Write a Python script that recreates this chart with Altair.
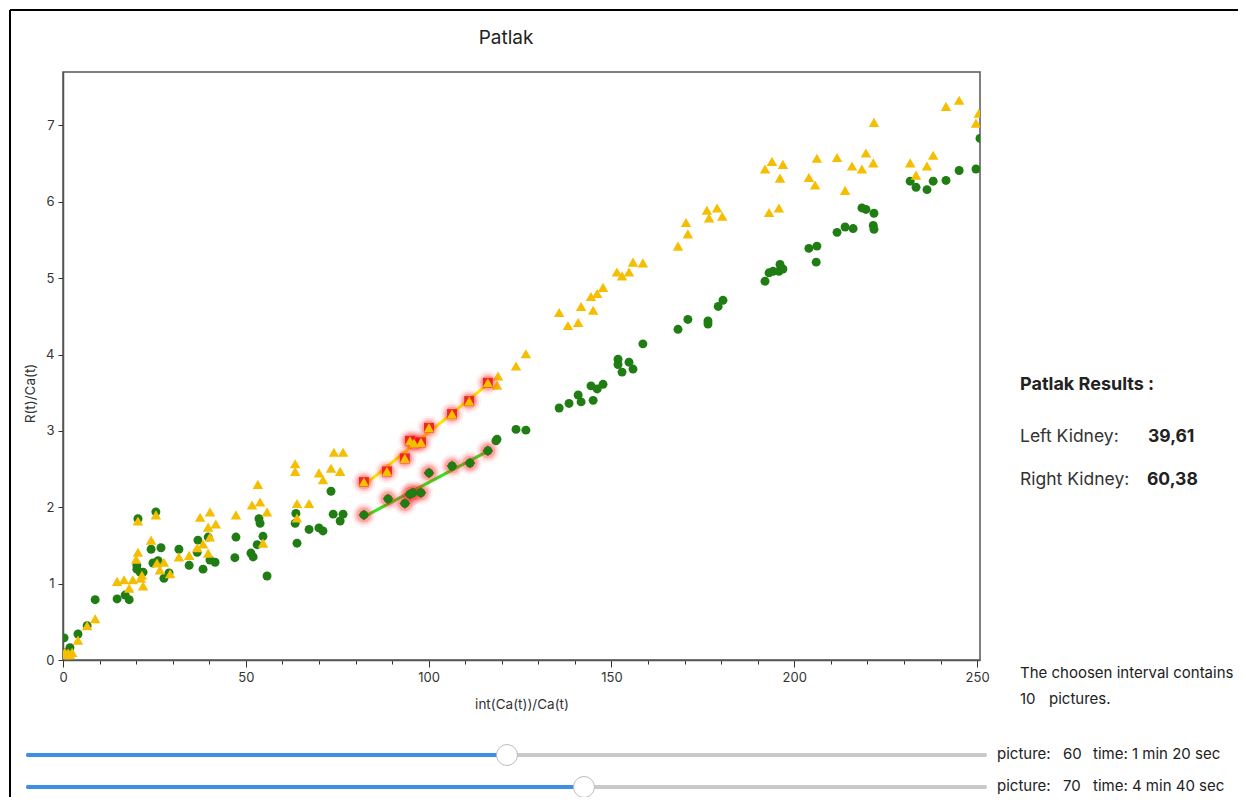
import altair as alt
import pandas as pd

# ---------------- data ----------------
# Right kidney (yellow triangles), points outside the chosen interval
right_x = [0.3, 0.5, 1.4, 1.9, 2.5, 4.1, 6.6, 8.8, 14.8, 16.7, 18.1, 19.1, 20.5, 20.0, 20.5,
           24.1, 21.6, 21.9, 21.3, 25.7, 27.6, 26.5, 29.3, 25.4, 31.7, 34.5, 36.7, 38.3, 39.7,
           40.2, 39.7, 41.8, 37.5, 40.2, 47.3, 53.3, 51.7, 53.9, 55.8, 54.7, 63.5, 63.5, 64.0,
           67.3, 64.0, 70.0, 71.1, 73.3, 75.8, 74.1, 76.6,
           118.7, 119.0, 123.9, 126.6, 135.7, 138.1, 140.9, 141.7, 145.0, 144.4, 146.1, 147.7,
           151.5, 152.9, 154.8, 155.9, 158.6, 168.2, 170.9, 170.4, 176.1, 178.9, 180.3, 176.7,
           192.0, 193.9, 196.9, 196.1, 193.1, 195.8, 206.2, 204.0, 205.7, 211.7, 213.9, 215.8,
           218.5, 219.6, 221.6, 221.8, 231.7, 233.3, 236.3, 238.0, 241.5, 245.1, 250.5, 249.7]
right_y = [0.07, 0.10, 0.09, 0.07, 0.10, 0.26, 0.45, 0.54, 1.03, 1.05, 0.94, 1.05, 1.41, 1.32, 1.82,
           1.57, 1.11, 0.97, 1.07, 1.27, 1.28, 1.18, 1.13, 1.90, 1.35, 1.37, 1.47, 1.52, 1.40,
           1.61, 1.74, 1.78, 1.87, 1.94, 1.90, 2.30, 2.03, 2.07, 1.94, 1.53, 2.57, 2.47, 2.05,
           2.05, 1.86, 2.45, 2.36, 2.51, 2.47, 2.72, 2.72,
           3.60, 3.72, 3.85, 4.01, 4.55, 4.38, 4.42, 4.63, 4.58, 4.76, 4.80, 4.88,
           5.08, 5.03, 5.08, 5.21, 5.20, 5.42, 5.58, 5.73, 5.89, 5.92, 5.81, 5.79,
           6.43, 6.53, 6.49, 6.31, 5.86, 5.92, 6.57, 6.32, 6.22, 6.58, 6.15, 6.47,
           6.43, 6.64, 6.51, 7.04, 6.51, 6.35, 6.47, 6.61, 7.25, 7.33, 7.16, 7.03]

# Right kidney, points inside the chosen interval (pictures 60-70)
right_sel_x = [82.3, 88.6, 93.5, 94.9, 96.0, 97.9, 100.1, 106.4, 111.1, 116.2]
right_sel_y = [2.33, 2.47, 2.64, 2.87, 2.84, 2.85, 3.04, 3.22, 3.39, 3.63]

# Left kidney (green circles), points outside the chosen interval
left_x = [0.3, 1.9, 0.8, 4.1, 6.6, 8.8, 14.8, 17.0, 18.1, 20.5, 25.4, 24.1, 26.8, 20.2, 21.1,
          21.9, 20.2, 24.6, 26.0, 27.6, 29.0, 31.7, 34.5, 38.3, 36.9, 39.7, 36.7, 40.2, 41.6,
          47.3, 47.0, 51.4, 52.0, 53.6, 53.9, 54.7, 53.1, 55.8, 63.7, 63.5, 64.0, 67.3, 70.0,
          71.1, 73.3, 73.9, 76.6, 75.8,
          118.4, 118.7, 123.9, 126.6, 135.7, 138.4, 140.9, 141.7, 145.0, 144.4, 146.1, 147.7,
          151.8, 151.8, 152.9, 154.8, 155.9, 158.6, 168.2, 170.9, 176.4, 176.4, 179.2, 180.5,
          192.0, 193.1, 194.2, 196.1, 195.8, 196.9, 204.0, 206.2, 206.0, 211.7, 213.9, 216.1,
          218.5, 219.6, 221.8, 221.6, 221.8, 231.7, 233.3, 236.3, 238.0, 241.5, 245.1, 249.7, 250.8]
left_y = [0.29, 0.16, 0.10, 0.34, 0.45, 0.79, 0.80, 0.85, 0.79, 1.85, 1.94, 1.45, 1.47, 1.19, 1.15,
          1.15, 1.24, 1.27, 1.30, 1.07, 1.14, 1.45, 1.24, 1.19, 1.57, 1.61, 1.41, 1.31, 1.28,
          1.61, 1.34, 1.40, 1.35, 1.85, 1.79, 1.62, 1.51, 1.10, 1.92, 1.79, 1.53, 1.71, 1.73,
          1.69, 2.21, 1.91, 1.91, 1.82,
          2.87, 2.89, 3.02, 3.01, 3.30, 3.36, 3.47, 3.38, 3.40, 3.59, 3.55, 3.61,
          3.94, 3.87, 3.77, 3.90, 3.81, 4.14, 4.33, 4.46, 4.44, 4.40, 4.63, 4.71,
          4.96, 5.07, 5.09, 5.18, 5.09, 5.12, 5.39, 5.42, 5.21, 5.60, 5.67, 5.65,
          5.92, 5.90, 5.85, 5.69, 5.64, 6.27, 6.19, 6.16, 6.27, 6.28, 6.41, 6.43, 6.83]

# Left kidney, points inside the chosen interval
left_sel_x = [82.3, 88.9, 93.5, 94.9, 95.7, 97.9, 100.1, 106.4, 111.3, 116.2]
left_sel_y = [1.90, 2.11, 2.05, 2.17, 2.19, 2.19, 2.45, 2.54, 2.58, 2.74]

x_tick_values = list(range(0, 251, 10))
y_tick_values = list(range(0, 8))
x_domain = [0, 250.8]
y_domain = [0, 7.7]

title_text = "Patlak"
x_title = "int(Ca(t))/Ca(t)"
y_title = "R(t)/Ca(t)"
results_title = "Patlak Results :"
result_labels = ["Left Kidney:", "Right Kidney:"]
result_values = ["39,61", "60,38"]
interval_text = ["The choosen interval contains", "10", "pictures."]
slider_pictures = ["60", "70"]
slider_times = ["time: 1 min 20 sec", "time: 4 min 40 sec"]

# ---------------- tables ----------------
right_df = pd.DataFrame({"x": right_x, "y": right_y})
right_sel_df = pd.DataFrame({"x": right_sel_x, "y": right_sel_y})
left_df = pd.DataFrame({"x": left_x, "y": left_y})
left_sel_df = pd.DataFrame({"x": left_sel_x, "y": left_sel_y})
one = pd.DataFrame({"a": [0]})

FONT = "Inter"
GREEN = "#1f7d14"
GOLD = "#f5be00"

X = alt.X("x:Q", scale=alt.Scale(domain=x_domain, nice=False, zero=False),
          axis=alt.Axis(values=x_tick_values, title=x_title,
                        labelExpr="datum.value % 50 === 0 ? datum.label : ''",
                        tickSize={"condition": {"test": "datum.value % 50 === 0", "value": 7}, "value": 4},
                        labelPadding=4, titlePadding=13, labelFlush=False))
Y = alt.Y("y:Q", scale=alt.Scale(domain=y_domain, nice=False),
          axis=alt.Axis(values=y_tick_values, title=y_title, tickSize=5,
                        labelPadding=4, labelFlush=False,
                        titleX=-33, titleY=321, titleAlign="center", titleBaseline="middle",
                        titleAngle=270))

green_pts = alt.Chart(left_df).mark_circle(size=80, color=GREEN, opacity=1, clip=True).encode(x=X, y=Y)
gold_pts = alt.Chart(right_df).mark_point(shape="triangle-up", filled=True, size=110, color=GOLD,
                                          opacity=1, clip=True).encode(x=X, y=Y)

gold_line = alt.Chart(right_sel_df).transform_regression("x", "y").mark_line(
    color="#ffe600", strokeWidth=3).encode(x=X, y=Y)
green_line = alt.Chart(left_sel_df).transform_regression("x", "y").mark_line(
    color="#2ee51e", strokeWidth=3).encode(x=X, y=Y)

def halo(df, shape_under, under_size):
    h0 = alt.Chart(df).mark_circle(size=560, color="#ff3030", opacity=0.08).encode(x=X, y=Y)
    h1 = alt.Chart(df).mark_circle(size=380, color="#ff3030", opacity=0.14).encode(x=X, y=Y)
    h2 = alt.Chart(df).mark_circle(size=230, color="#ff2020", opacity=0.25).encode(x=X, y=Y)
    h3 = alt.Chart(df).mark_point(shape=shape_under, filled=True, size=under_size, color="#ee1010",
                                  opacity=0.85).encode(x=X, y=Y)
    return [h0, h1, h2, h3]

gold_sel = alt.Chart(right_sel_df).mark_point(shape="triangle-up", filled=True, size=110,
                                              color=GOLD, opacity=1).encode(x=X, y=Y)
green_sel = alt.Chart(left_sel_df).mark_circle(size=80, color=GREEN, opacity=1).encode(x=X, y=Y)

# ---------------- surrounding text and controls ----------------
def txt(s, x, y, size=13, weight="normal", align="left", color="#222"):
    return alt.Chart(one).mark_text(text=s, font=FONT, fontSize=size, fontWeight=weight,
                                    align=align, baseline="middle", color=color).encode(
        x=alt.value(x), y=alt.value(y))

texts = [
    txt(title_text, 443, -34, size=19, align="center", color="#222"),
    txt(results_title, 957, 313, size=18, weight="bold"),
    txt(result_labels[0], 957, 365, size=17.5, color="#333"),
    txt(result_values[0], 1085, 365, size=17.5, weight="bold"),
    txt(result_labels[1], 957, 408, size=17.5, color="#333"),
    txt(result_values[1], 1084, 408, size=17.5, weight="bold"),
    txt(interval_text[0], 957, 601, size=15),
    txt(interval_text[1], 957, 627, size=15),
    txt(interval_text[2], 986, 627, size=15),
]

def rule(x, x2, y, color, width):
    return alt.Chart(one).mark_rule(color=color, strokeWidth=width, strokeCap="round").encode(
        x=alt.value(x), x2=alt.value(x2), y=alt.value(y))

controls = []
for i, (knob, ypos) in enumerate([(444, 683), (521, 715)]):
    controls.append(rule(-35, 922, ypos, "#c9c9c9", 4))
    controls.append(rule(-35, knob, ypos, "#3d8ee6", 4))
    controls.append(alt.Chart(one).mark_point(shape="circle", filled=True, fill="white",
                                              stroke="#bdbdbd", strokeWidth=1, size=440,
                                              opacity=1).encode(x=alt.value(knob), y=alt.value(ypos)))
    controls.append(txt("picture:", 934, ypos - 1, size=15))
    controls.append(txt(slider_pictures[i], 1000, ypos - 1, size=15))
    controls.append(txt(slider_times[i], 1030, ypos - 1, size=15))

frame = [
    alt.Chart(one).mark_rule(color="#000", strokeWidth=2).encode(
        x=alt.value(-53), x2=alt.value(1183), y=alt.value(-62)),
    alt.Chart(one).mark_rule(color="#000", strokeWidth=2).encode(
        x=alt.value(-53), y=alt.value(-62), y2=alt.value(740)),
]

layers = ([green_pts, gold_pts, gold_line, green_line]
          + halo(right_sel_df, "square", 100) + halo(left_sel_df, "diamond", 120)
          + [gold_sel, green_sel] + texts + controls + frame)

chart = alt.layer(*layers).properties(
    width=917, height=588,
    autosize=alt.AutoSizeParams(type="none"),
    padding={"left": 55, "top": 64, "right": 258, "bottom": 137},
    background="white",
).configure_view(
    stroke="#555", strokeWidth=1.5
).configure_axis(
    grid=False, labelFont=FONT, labelFontSize=13, labelColor="#333",
    tickColor="#333", tickWidth=1, domainColor="#555", domainWidth=1.5,
    titleFont=FONT, titleFontSize=13.5, titleFontWeight="normal", titleColor="#333",
)

chart.save("out.html", embed_options={"renderer": "svg", "actions": False})
